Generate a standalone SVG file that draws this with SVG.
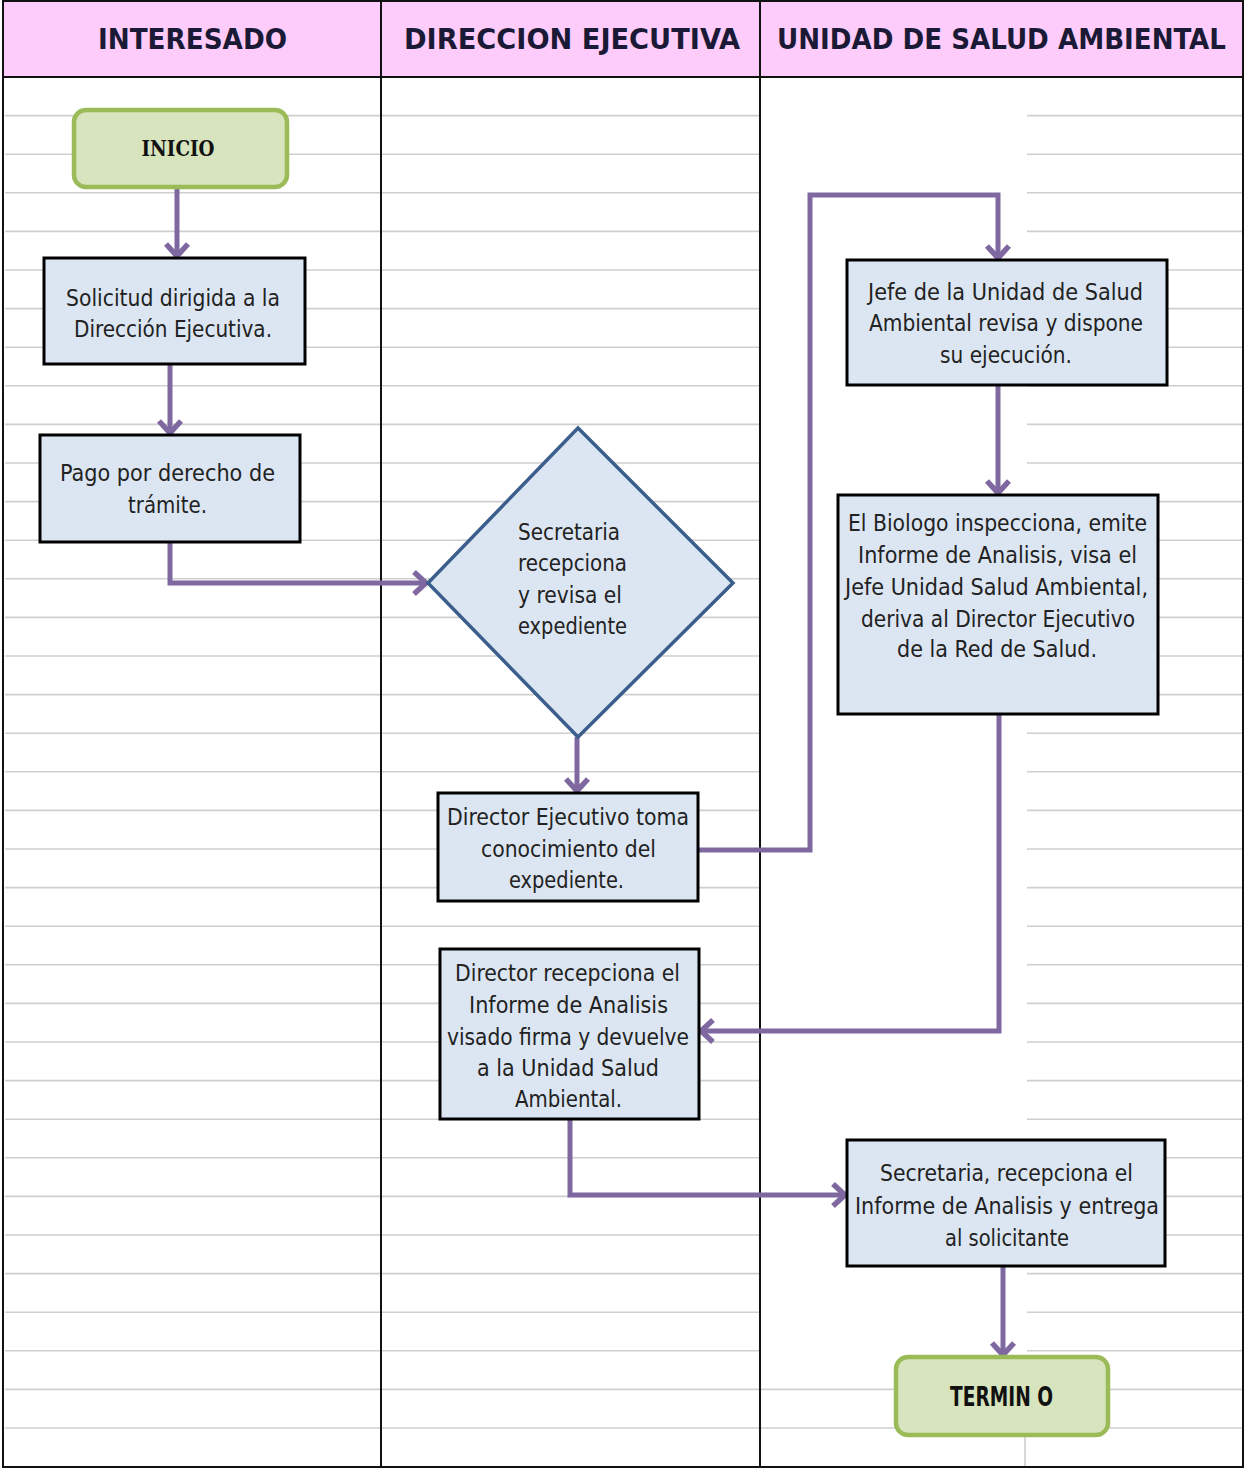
<svg xmlns="http://www.w3.org/2000/svg" width="1250" height="1469" viewBox="0 0 1250 1469">
<style>
.grid{stroke:#cfcfcf;stroke-width:1.6;fill:none}
.lane{stroke:#111;stroke-width:2;fill:none}
.hdr{font-family:"DejaVu Sans Condensed","DejaVu Sans",sans-serif;font-weight:bold;font-size:29px;fill:#1b1a36;text-anchor:middle}
.box{fill:#dce6f2;stroke:#000;stroke-width:3}
.dia{fill:#dce6f2;stroke:#3b5e8c;stroke-width:3.5}
.term{fill:#d7e4bd;stroke:#9bbb59;stroke-width:4.5}
.t{font-family:"DejaVu Sans Condensed","DejaVu Sans",sans-serif;font-size:23px;fill:#222;text-anchor:middle}
.tl{font-family:"DejaVu Sans Condensed","DejaVu Sans",sans-serif;font-size:23px;fill:#222}
.ts{font-family:"DejaVu Serif Condensed","DejaVu Serif",serif;font-weight:bold;font-size:22px;fill:#111;text-anchor:middle}
.tb{font-family:"DejaVu Sans Condensed","DejaVu Sans",sans-serif;font-weight:bold;font-size:26px;fill:#111;text-anchor:middle}
.c{fill:none;stroke:#7f68a0;stroke-width:5;stroke-linejoin:miter}
</style>
<defs>
<marker id="arr" markerUnits="userSpaceOnUse" viewBox="-18 -16 22 32" refX="0" refY="0" markerWidth="22" markerHeight="32" orient="auto">
<path d="M-12,-11 L0,0 L-12,11" fill="none" stroke="#7f68a0" stroke-width="5.5"/>
</marker>
</defs>
<rect x="0" y="0" width="1250" height="1469" fill="#fff"/>
<g id="lanes">
<rect x="3" y="1" width="1240" height="76" fill="#fdccfb"/>
<g class="grid">
<path d="M5,115.6H381M5,154.2H381M5,192.8H381M5,231.4H381M5,270H381M5,308.6H381M5,347.2H381M5,385.8H381M5,424.4H381M5,463H381M5,501.6H381M5,540.2H381M5,578.8H381M5,617.4H381M5,656H381M5,694.6H381M5,733.2H381M5,771.8H381M5,810.4H381M5,849H381M5,887.6H381M5,926.2H381M5,964.8H381M5,1003.4H381M5,1042H381M5,1080.6H381M5,1119.2H381M5,1157.8H381M5,1196.4H381M5,1235H381M5,1273.6H381M5,1312.2H381M5,1350.8H381M5,1389.4H381M5,1428H381"/>
<path d="M381,115.6H760M381,154.2H760M381,192.8H760M381,231.4H760M381,270H760M381,308.6H760M381,347.2H760M381,385.8H760M381,424.4H760M381,463H760M381,501.6H760M381,540.2H760M381,578.8H760M381,617.4H760M381,656H760M381,694.6H760M381,733.2H760M381,771.8H760M381,810.4H760M381,849H760M381,887.6H760M381,926.2H760M381,964.8H760M381,1003.4H760M381,1042H760M381,1080.6H760M381,1119.2H760M381,1157.8H760M381,1196.4H760M381,1235H760M381,1273.6H760M381,1312.2H760M381,1350.8H760M381,1389.4H760M381,1428H760"/>
<path d="M1027,115.6H1243M1027,154.2H1243M1027,192.8H1243M1027,231.4H1243M1027,270H1243M1027,308.6H1243M1027,347.2H1243M1027,385.8H1243M1027,424.4H1243M1027,463H1243M1027,501.6H1243M1027,540.2H1243M1027,578.8H1243M1027,617.4H1243M1027,656H1243M1027,694.6H1243M1027,733.2H1243M1027,771.8H1243M1027,810.4H1243M1027,849H1243M1027,887.6H1243M1027,926.2H1243M1027,964.8H1243M1027,1003.4H1243M1027,1042H1243M1027,1080.6H1243M1027,1119.2H1243M1027,1157.8H1243M1027,1196.4H1243M1027,1235H1243M1027,1273.6H1243M1027,1312.2H1243M1027,1350.8H1243M760,1389.4H1243M760,1428H1243M1025,1428V1467"/>
</g>
<rect class="lane" x="3" y="1" width="1240" height="1466"/>
<path class="lane" d="M3,77H1243M381,1V1467M760,1V1467"/>
<text class="hdr" x="192.5" y="49" textLength="189" lengthAdjust="spacingAndGlyphs">INTERESADO</text>
<text class="hdr" x="572" y="49" textLength="336" lengthAdjust="spacingAndGlyphs">DIRECCION EJECUTIVA</text>
<text class="hdr" x="1001.5" y="49" textLength="449" lengthAdjust="spacingAndGlyphs">UNIDAD DE SALUD AMBIENTAL</text>
</g>
<g id="connectors">
<path class="c" d="M177,187V256" marker-end="url(#arr)"/>
<path class="c" d="M170,364V433" marker-end="url(#arr)"/>
<path class="c" d="M170,542V583H426" marker-end="url(#arr)"/>
<path class="c" d="M577,737V791" marker-end="url(#arr)"/>
<path class="c" d="M698,850H810V195H998V258" marker-end="url(#arr)"/>
<path class="c" d="M998,385V493" marker-end="url(#arr)"/>
<path class="c" d="M999,714V1031H701" marker-end="url(#arr)"/>
<path class="c" d="M570,1119V1195H845" marker-end="url(#arr)"/>
<path class="c" d="M1003,1266V1355" marker-end="url(#arr)"/>
</g>
<g id="inicio">
<rect class="term" x="74" y="110" width="213" height="77" rx="12"/>
<text class="ts" x="178" y="156" textLength="73" lengthAdjust="spacingAndGlyphs">INICIO</text>
</g>
<g id="solicitud">
<rect class="box" x="44" y="258" width="261" height="106"/>
<text class="t" x="173" y="306" textLength="214" lengthAdjust="spacingAndGlyphs">Solicitud dirigida a la</text>
<text class="t" x="173" y="337" textLength="198" lengthAdjust="spacingAndGlyphs">Dirección Ejecutiva.</text>
</g>
<g id="pago">
<rect class="box" x="40" y="435" width="260" height="107"/>
<text class="t" x="167.5" y="481" textLength="215" lengthAdjust="spacingAndGlyphs">Pago por derecho de</text>
<text class="t" x="167.5" y="513" textLength="79" lengthAdjust="spacingAndGlyphs">trámite.</text>
</g>
<g id="secretaria-revisa">
<polygon class="dia" points="578,428 733,583 578,737 428,583"/>
<text class="tl" x="518" y="540" textLength="102" lengthAdjust="spacingAndGlyphs">Secretaria</text>
<text class="tl" x="518" y="571" textLength="109" lengthAdjust="spacingAndGlyphs">recepciona</text>
<text class="tl" x="518" y="603" textLength="104" lengthAdjust="spacingAndGlyphs">y revisa el</text>
<text class="tl" x="518" y="634" textLength="109" lengthAdjust="spacingAndGlyphs">expediente</text>
</g>
<g id="director-toma">
<rect class="box" x="438" y="793" width="260" height="108"/>
<text class="t" x="568" y="825" textLength="242" lengthAdjust="spacingAndGlyphs">Director Ejecutivo toma</text>
<text class="t" x="568.5" y="857" textLength="175" lengthAdjust="spacingAndGlyphs">conocimiento del</text>
<text class="t" x="566.5" y="888" textLength="115" lengthAdjust="spacingAndGlyphs">expediente.</text>
</g>
<g id="director-recepciona">
<rect class="box" x="440" y="949" width="259" height="170"/>
<text class="t" x="567.5" y="981" textLength="225" lengthAdjust="spacingAndGlyphs">Director recepciona el</text>
<text class="t" x="568.5" y="1013" textLength="199" lengthAdjust="spacingAndGlyphs">Informe de Analisis</text>
<text class="t" x="568" y="1045" textLength="242" lengthAdjust="spacingAndGlyphs">visado firma y devuelve</text>
<text class="t" x="568" y="1076" textLength="182" lengthAdjust="spacingAndGlyphs">a la Unidad Salud</text>
<text class="t" x="568.5" y="1107" textLength="107" lengthAdjust="spacingAndGlyphs">Ambiental.</text>
</g>
<g id="jefe-revisa">
<rect class="box" x="847" y="260" width="320" height="125"/>
<text class="t" x="1005.5" y="300" textLength="275" lengthAdjust="spacingAndGlyphs">Jefe de la Unidad de Salud</text>
<text class="t" x="1006" y="331" textLength="274" lengthAdjust="spacingAndGlyphs">Ambiental revisa y dispone</text>
<text class="t" x="1006" y="363" textLength="132" lengthAdjust="spacingAndGlyphs">su ejecución.</text>
</g>
<g id="biologo">
<rect class="box" x="838" y="495" width="320" height="219"/>
<text class="t" x="997.5" y="531" textLength="299" lengthAdjust="spacingAndGlyphs">El Biologo inspecciona, emite</text>
<text class="t" x="997.5" y="563" textLength="279" lengthAdjust="spacingAndGlyphs">Informe de Analisis, visa el</text>
<text class="t" x="996.5" y="595" textLength="303" lengthAdjust="spacingAndGlyphs">Jefe Unidad Salud Ambiental,</text>
<text class="t" x="998" y="627" textLength="274" lengthAdjust="spacingAndGlyphs">deriva al Director Ejecutivo</text>
<text class="t" x="997" y="657" textLength="200" lengthAdjust="spacingAndGlyphs">de la Red de Salud.</text>
</g>
<g id="secretaria-entrega">
<rect class="box" x="847" y="1140" width="318" height="126"/>
<text class="t" x="1006.5" y="1181" textLength="253" lengthAdjust="spacingAndGlyphs">Secretaria, recepciona el</text>
<text class="t" x="1007" y="1214" textLength="304" lengthAdjust="spacingAndGlyphs">Informe de Analisis y entrega</text>
<text class="t" x="1007" y="1246" textLength="124" lengthAdjust="spacingAndGlyphs">al solicitante</text>
</g>
<g id="termino">
<rect class="term" x="896" y="1357" width="212" height="78" rx="12"/>
<text class="tb" x="1001.5" y="1406" textLength="103" lengthAdjust="spacingAndGlyphs">TERMIN O</text>
</g>
</svg>
